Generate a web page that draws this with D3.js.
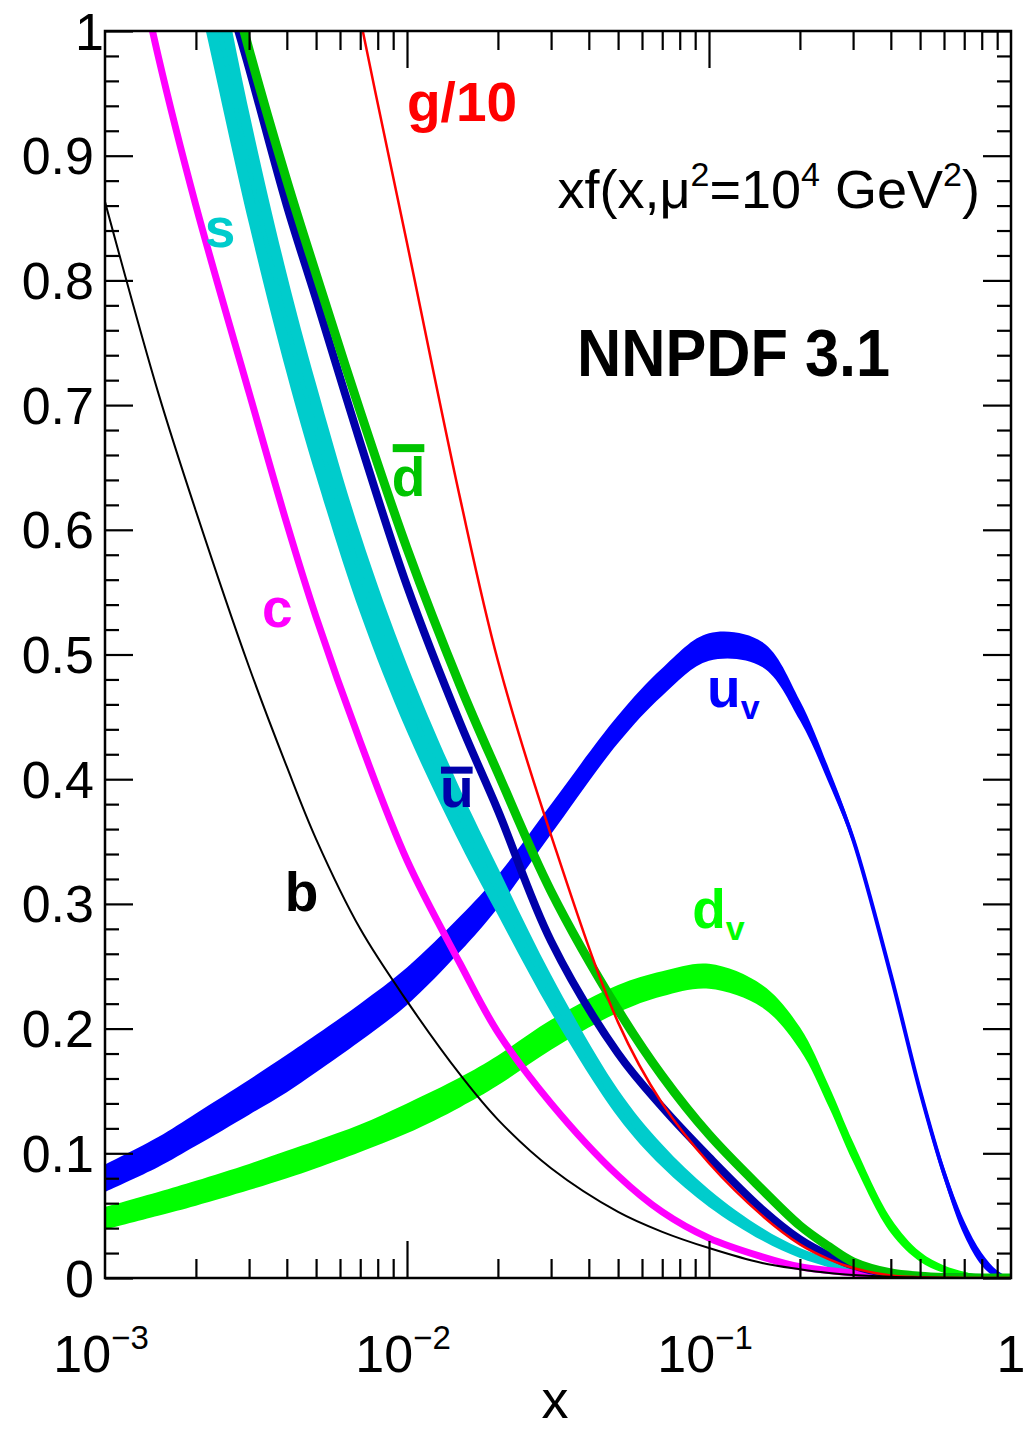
<!DOCTYPE html>
<html>
<head>
<meta charset="utf-8">
<script src="https://cdn.jsdelivr.net/npm/d3@7"></script>
<style>
  html, body { margin: 0; padding: 0; background: #fff; }
  svg { display: block; }
  text { font-family: "Liberation Sans", Arial, Helvetica, sans-serif; white-space: pre; }
</style>
</head>
<body>
<div id="chart"></div>
<script>
const xGrid = [0.001, 0.0015, 0.002, 0.003, 0.004, 0.005, 0.007, 0.01, 0.015, 0.02, 0.03, 0.05,
               0.07, 0.1, 0.15, 0.2, 0.25, 0.3, 0.4, 0.5, 0.6, 0.7, 0.8, 0.9, 1.0];

// valence quarks (central value and half width of the band)
const uvVal = [0.080, 0.101, 0.119, 0.145, 0.164, 0.180, 0.205, 0.234, 0.276, 0.310, 0.368, 0.440,
               0.478, 0.506, 0.500, 0.455, 0.402, 0.352, 0.243, 0.150, 0.084, 0.040, 0.015, 0.003, 0.0];
const uvErr = [0.011, 0.012, 0.013, 0.014, 0.015, 0.015, 0.015, 0.015, 0.014, 0.013, 0.012, 0.011,
               0.011, 0.011, 0.010, 0.008, 0.006, 0.004, 0.003, 0.004, 0.005, 0.006, 0.005, 0.003, 0.0];
const dvVal = [0.048, 0.0595, 0.068, 0.081, 0.091, 0.099, 0.112, 0.128, 0.149, 0.1665, 0.195, 0.224,
               0.236, 0.242, 0.226, 0.192, 0.145, 0.101, 0.042, 0.017, 0.007, 0.003, 0.001, 0.0005, 0.0];
const dvErr = [0.009, 0.0095, 0.010, 0.0105, 0.011, 0.011, 0.011, 0.012, 0.012, 0.012, 0.012, 0.011,
               0.010, 0.010, 0.009, 0.009, 0.0085, 0.008, 0.006, 0.004, 0.003, 0.002, 0.001, 0.0005, 0.0];

// strange (band)
const sVal = [1.45, 1.22, 1.09, 0.89, 0.765, 0.68, 0.565, 0.465, 0.37, 0.31, 0.228, 0.14,
              0.098, 0.064, 0.035, 0.02, 0.012, 0.006, 0.002, 0.001, 0.0005, 0.0002, 0.0001, 0.0, 0.0];
const sErr = [0.07, 0.06, 0.055, 0.045, 0.04, 0.037, 0.032, 0.027, 0.022, 0.019, 0.015, 0.011,
              0.009, 0.007, 0.005, 0.004, 0.0035, 0.003, 0.002, 0.0015, 0.001, 0.001, 0.0005, 0.0, 0.0];

// narrow ones, drawn as lines
const cVal    = [1.18, 0.98, 0.86, 0.71, 0.605, 0.53, 0.43, 0.335, 0.252, 0.197, 0.14, 0.082,
                 0.053, 0.032, 0.017, 0.009, 0.006, 0.004, 0.002, 0.001, 0.0005, 0.0002, 0.0001, 0.0, 0.0];
const ubarVal = [1.47, 1.26, 1.12, 0.97, 0.86, 0.785, 0.67, 0.555, 0.445, 0.375, 0.27, 0.18,
                 0.137, 0.097, 0.055, 0.031, 0.018, 0.01, 0.003, 0.001, 0.0005, 0.0002, 0.0001, 0.0, 0.0];
const dbarVal = [1.5, 1.29, 1.15, 0.985, 0.88, 0.805, 0.695, 0.585, 0.475, 0.405, 0.31, 0.215,
                 0.162, 0.115, 0.071, 0.042, 0.025, 0.013, 0.004, 0.0015, 0.0005, 0.0002, 0.0001, 0.0, 0.0];
const gVal    = [2.05, 1.82, 1.67, 1.46, 1.31, 1.19, 1.01, 0.83, 0.625, 0.495, 0.355, 0.205,
                 0.14, 0.092, 0.05, 0.027, 0.015, 0.008, 0.002, 0.0006, 0.0002, 0.0, 0.0, 0.0, 0.0];
const bVal    = [0.863, 0.71, 0.615, 0.49, 0.41, 0.352, 0.28, 0.222, 0.163, 0.127, 0.088, 0.053,
                 0.037, 0.024, 0.012, 0.007, 0.004, 0.0025, 0.001, 0.0005, 0.0002, 0.0001, 0.0, 0.0, 0.0];

// ticks
const yMajor = [0, 0.1, 0.2, 0.3, 0.4, 0.5, 0.6, 0.7, 0.8, 0.9, 1];
const yLabels = ["0", "0.1", "0.2", "0.3", "0.4", "0.5", "0.6", "0.7", "0.8", "0.9", "1"];
const xMajor = [0.001, 0.01, 0.1, 1];
const xExp = ["\u22123", "\u22122", "\u22121", ""];

const W = 1025, H = 1430;
const padL = 105, padR = 1011, padT = 31, padB = 1278;

const svg = d3.select("#chart").append("svg").attr("width", W).attr("height", H);

const x = d3.scaleLog().domain([1e-3, 1]).range([padL, padR]);
const y = d3.scaleLinear().domain([0, 1]).range([padB, padT]);

svg.append("clipPath").attr("id", "plot")
  .append("rect")
  .attr("x", padL).attr("y", padT)
  .attr("width", padR - padL).attr("height", padB - padT);

const plot = svg.append("g").attr("clip-path", "url(#plot)");
const smooth = d3.curveCatmullRom.alpha(0.5);

const pts = (vals, errs) => xGrid.map((xv, i) => ({
  x: xv,
  v: vals[i],
  lo: Math.max(0, vals[i] - (errs ? errs[i] : 0)),
  hi: vals[i] + (errs ? errs[i] : 0)
}));

function drawBand(vals, errs, color) {
  const d = pts(vals, errs);
  plot.append("path").datum(d)
    .attr("d", d3.area().x(p => x(p.x)).y0(p => y(p.lo)).y1(p => y(p.hi)).curve(smooth))
    .attr("fill", color);
  plot.append("path").datum(d)
    .attr("d", d3.line().x(p => x(p.x)).y(p => y(p.v)).curve(smooth))
    .attr("fill", "none").attr("stroke", color).attr("stroke-width", 4);
}

function drawLine(vals, color, w) {
  plot.append("path").datum(pts(vals))
    .attr("d", d3.line().x(p => x(p.x)).y(p => y(p.v)).curve(smooth))
    .attr("fill", "none").attr("stroke", color).attr("stroke-width", w);
}

drawBand(uvVal, uvErr, "#0000ff");
drawBand(dvVal, dvErr, "#00ff00");
drawBand(sVal, sErr, "#00cccc");
drawLine(cVal, "#ff00ff", 7);
drawLine(ubarVal, "#0000aa", 8);
drawLine(dbarVal, "#00c400", 9);
drawLine(gVal, "#ff0000", 2.5);
drawLine(bVal, "#000000", 2);

// ---- axes (inward ticks on all four sides)
const xMinor = [];
[0.001, 0.01, 0.1].forEach(d => { for (let k = 2; k <= 9; k++) xMinor.push(d * k); });
const yMinor = d3.range(0, 1.0001, 0.02).filter(v => Math.abs(v * 10 - Math.round(v * 10)) > 1e-6);

function tickAxis(axis, tx, ty) {
  const a = svg.append("g").attr("transform", `translate(${tx},${ty})`).call(axis);
  a.select(".domain").remove();
  a.selectAll("line").attr("stroke", "#000").attr("stroke-width", 2.2);
  a.selectAll("text").remove();
}

tickAxis(d3.axisBottom(x).tickValues(xMajor.slice(1, 3)).tickSize(-37).tickFormat(""), 0, padB);
tickAxis(d3.axisBottom(x).tickValues(xMinor).tickSize(-19).tickFormat(""), 0, padB);
tickAxis(d3.axisTop(x).tickValues(xMajor.slice(1, 3)).tickSize(-37).tickFormat(""), 0, padT);
tickAxis(d3.axisTop(x).tickValues(xMinor).tickSize(-19).tickFormat(""), 0, padT);
tickAxis(d3.axisLeft(y).tickValues(yMajor).tickSize(-28).tickFormat(""), padL, 0);
tickAxis(d3.axisLeft(y).tickValues(yMinor).tickSize(-14).tickFormat(""), padL, 0);
tickAxis(d3.axisRight(y).tickValues(yMajor).tickSize(-28).tickFormat(""), padR, 0);
tickAxis(d3.axisRight(y).tickValues(yMinor).tickSize(-14).tickFormat(""), padR, 0);

svg.append("rect")
  .attr("x", padL).attr("y", padT)
  .attr("width", padR - padL).attr("height", padB - padT)
  .attr("fill", "none").attr("stroke", "#000").attr("stroke-width", 2.5);

// y tick labels
svg.selectAll(".ylab").data(yMajor).enter().append("text")
  .attr("class", "ylab")
  .attr("x", (d, i) => i === 10 ? 104 : 94)
  .attr("y", d => y(d) + 18.5)
  .attr("text-anchor", "end")
  .attr("font-size", 52)
  .text((d, i) => yLabels[i]);

// x tick labels
xMajor.forEach((v, i) => {
  const t = svg.append("text")
    .attr("x", x(v) - (i === 3 ? 0 : 4)).attr("y", 1372)
    .attr("text-anchor", "middle").attr("font-size", 52);
  if (xExp[i] === "") {
    t.text("1");
  } else {
    t.append("tspan").text("10");
    t.append("tspan").attr("font-size", 33).attr("dy", -23).text(xExp[i]);
  }
});

svg.append("text").attr("x", 555).attr("y", 1418)
  .attr("text-anchor", "middle").attr("font-size", 54).text("x");

// title text
const tt = svg.append("text").attr("x", 980).attr("y", 208)
  .attr("text-anchor", "end").attr("font-size", 54);
tt.append("tspan").text("xf(x,\u03bc");
tt.append("tspan").attr("font-size", 34).attr("dy", -22).text("2");
tt.append("tspan").attr("dy", 22).text("=10");
tt.append("tspan").attr("font-size", 34).attr("dy", -22).text("4");
tt.append("tspan").attr("dy", 22).text(" GeV");
tt.append("tspan").attr("font-size", 34).attr("dy", -22).text("2");
tt.append("tspan").attr("dy", 22).text(")");

svg.append("text").attr("x", 577).attr("y", 376)
  .attr("font-family", "Lato, 'Open Sans', sans-serif")
  .attr("font-weight", "bold").attr("font-size", 66)
  .attr("textLength", 313).attr("lengthAdjust", "spacingAndGlyphs")
  .text("NNPDF 3.1");

// curve labels
function label(xv, yv, txt, sub, color, bar) {
  const t = svg.append("text").attr("x", x(xv)).attr("y", y(yv))
    .attr("font-weight", "bold").attr("font-size", 55).attr("fill", color);
  t.append("tspan").text(txt);
  if (sub) t.append("tspan").attr("font-size", 34).attr("dy", 12).text(sub);
  if (bar) {
    const bb = t.node().getBBox();
    svg.append("rect")
      .attr("x", bb.x + 1).attr("width", bb.width - 2)
      .attr("y", y(yv) - bar[0]).attr("height", bar[1])
      .attr("fill", color);
  }
}

label(0.01, 0.928, "g/10", null, "#ff0000");
label(0.00214, 0.827, "s", null, "#00cccc");
label(0.00331, 0.522, "c", null, "#ff00ff");
label(0.00394, 0.2945, "b", null, "#000000");
label(0.0089, 0.627, "d", null, "#00c400", [52, 8]);
label(0.01286, 0.378, "u", null, "#0000aa", [40, 7]);
label(0.0985, 0.458, "u", "v", "#0000ff");
label(0.088, 0.281, "d", "v", "#00ff00");
</script>
</body>
</html>
